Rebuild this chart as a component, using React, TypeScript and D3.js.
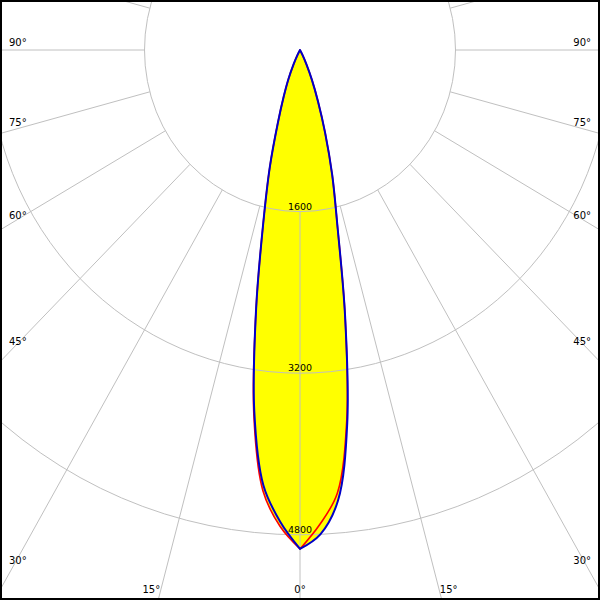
import * as d3 from "d3";

// gamma angles (deg from nadir) and intensities (cd)
const gamma = [0, 2.5, 5, 7.5, 10, 12.5, 15, 17.5, 20, 22.5, 25, 27.5, 30];
const c0 = [4940, 4800, 4480, 3725, 2670, 1775, 1280, 860, 540, 320, 155, 60, 0];
const c180 = [4940, 4675, 4325, 3605, 2600, 1740, 1200, 760, 490, 310, 155, 60, 0];
const c90 = [4940, 4700, 4405, 3690, 2670, 1775, 1280, 860, 540, 320, 155, 60, 0];
const c270 = [4940, 4720, 4380, 3640, 2600, 1740, 1200, 760, 490, 310, 155, 60, 0];

const rings = [1600, 3200, 4800];
const sideTicks = [90, 75, 60, 45, 30];
const bottomTicks = [-15, 0, 15];
const spokes = d3.range(0, 360, 15);

const W = 600;
const H = 600;
const cx = 300;
const cy = 50;

const rx = d3.scaleLinear().domain([0, 1600]).range([0, 155.5]);
const ry = d3.scaleLinear().domain([0, 1600]).range([0, 161.6]);

const pt = (deg: number, I: number, side: number): [number, number] => {
  const t = (deg * Math.PI) / 180;
  return [cx + side * rx(I) * Math.sin(t), cy + ry(I) * Math.cos(t)];
};

const curve = d3.line<[number, number]>().curve(d3.curveCatmullRom.alpha(0.5));

// left half from 30deg down to the tip, right half back up, kept sharp at the tip
const planePath = (left: number[], right: number[]) => {
  const l = gamma.map((g, i) => pt(g, left[i], -1)).reverse();
  const r = gamma.map((g, i) => pt(g, right[i], 1));
  return curve(l) + (curve(r) || "").replace(/^M/, "L") + "Z";
};

const App = () => {
  const blue = planePath(c180, c0);
  const red = planePath(c270, c90);
  const font = "DejaVu Sans, sans-serif";

  return (
    <svg
      width={W}
      height={H}
      style={{ position: "absolute", left: 0, top: 0, display: "block", background: "#fff" }}
    >
      <rect width={W} height={H} fill="#fff" />
      <path d={red} fill="#ffff00" />
      <path d={blue} fill="#ffff00" />

      <g stroke="#c0c0c0" strokeWidth={1} fill="none">
        {rings.map((r) => (
          <ellipse key={r} cx={cx} cy={cy} rx={rx(r)} ry={ry(r)} />
        ))}
        {spokes.map((a) => {
          const [x1, y1] = pt(a, rings[0], 1);
          const [x2, y2] = pt(a, 9000, 1);
          return <line key={a} x1={x1} y1={y1} x2={x2} y2={y2} />;
        })}
      </g>

      <path d={red} fill="none" stroke="#ff0000" strokeWidth={1.6} strokeLinejoin="round" />
      <path d={blue} fill="none" stroke="#0000c8" strokeWidth={2} strokeLinejoin="round" />

      <g fontFamily={font} fontSize={10} fill="#000">
        {sideTicks.map((g) => {
          const t = (g * Math.PI) / 180;
          const I = rx.invert(cx / Math.sin(t));
          const edgeY = cy + ry(I) * Math.cos(t);
          const y = cy + (edgeY - cy) * 0.96 - 4;
          return (
            <g key={g}>
              <text x={9} y={y}>{`${g}°`}</text>
              <text x={591} y={y} textAnchor="end">{`${g}°`}</text>
            </g>
          );
        })}
        {bottomTicks.map((g) => {
          const t = (g * Math.PI) / 180;
          const I = ry.invert((H - cy) / Math.cos(t));
          const x = cx + rx(I) * Math.sin(t);
          const anchor = g < 0 ? "end" : g > 0 ? "start" : "middle";
          const dx = g < 0 ? 2 : g > 0 ? -2 : 0;
          return (
            <text key={g} x={x + dx} y={593} textAnchor={anchor}>{`${Math.abs(g)}°`}</text>
          );
        })}
        {rings.map((r) => (
          <text key={r} x={cx} y={cy + ry(r) - 2} textAnchor="middle" fontSize={9.5}>
            {r}
          </text>
        ))}
      </g>

      <rect x={1} y={1} width={W - 2} height={H - 2} fill="none" stroke="#000" strokeWidth={2} />
    </svg>
  );
};

export default App;
